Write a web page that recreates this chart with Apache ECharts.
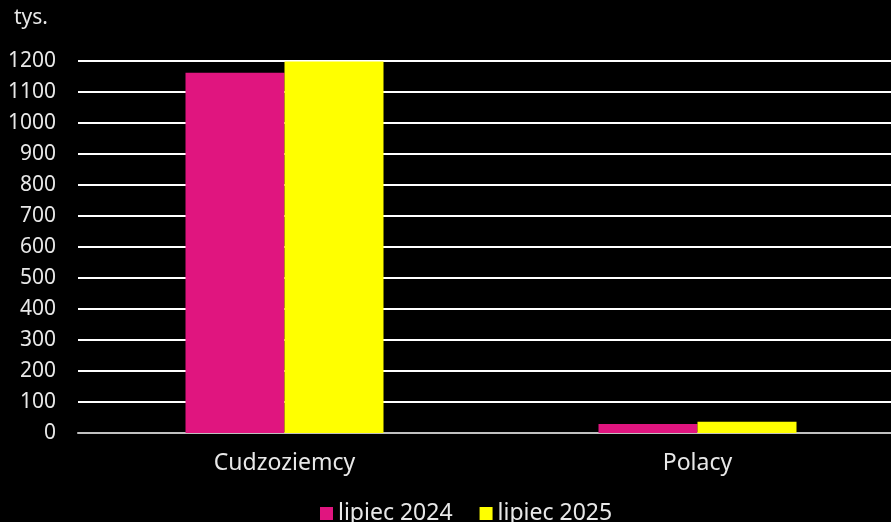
<!DOCTYPE html>
<html><head><meta charset="utf-8">
<script src="https://cdn.jsdelivr.net/npm/echarts@6/dist/echarts.min.js"></script>
<style>html,body{margin:0;padding:0;background:#000;}#c{width:891px;height:522px;}</style>
</head><body><div id="c"></div>
<script>
const categories = ['Cudzoziemcy', 'Polacy'];
const seriesNames = ['lipiec 2024', 'lipiec 2025'];
const values2024 = [1162, 29];
const values2025 = [1198, 36];
const colors = ['#E0157F', '#FFFF00'];

const chart = echarts.init(document.getElementById('c'));
const font = 'Noto Sans';
chart.setOption({
  backgroundColor: '#000',
  animation: false,
  textStyle: { fontFamily: font },
  grid: { left: 78, width: 826, top: 61, height: 372, containLabel: false, outerBoundsMode: 'none' },
  legend: {
    bottom: -3, left: 320, padding: 0, itemWidth: 13, itemHeight: 13, itemGap: 27,
    icon: 'rect',
    textStyle: { color: '#e8e8e8', fontSize: 23, fontFamily: font },
    data: seriesNames
  },
  xAxis: {
    type: 'category', data: categories,
    axisLine: { lineStyle: { color: '#c0c0c0', width: 2 } },
    axisTick: { show: false },
    axisLabel: { color: '#e8e8e8', fontSize: 23, margin: 19, fontFamily: font }
  },
  yAxis: {
    type: 'value', min: 0, max: 1200, interval: 100,
    name: 'tys.', nameLocation: 'end', nameGap: 32,
    nameTextStyle: { color: '#e8e8e8', fontSize: 21, align: 'left', padding: [0,0,0,-64], fontFamily: font },
    axisLine: { show: false }, axisTick: { show: false },
    axisLabel: { color: '#e8e8e8', fontSize: 21, margin: 22, fontFamily: font, formatter: v => String(v) },
    splitLine: { lineStyle: { color: '#ffffff', width: 2 } }
  },
  series: [
    { name: seriesNames[0], type: 'bar', data: values2024, itemStyle: { color: colors[0] }, barGap: '0%', barWidth: 99 },
    { name: seriesNames[1], type: 'bar', data: values2025, itemStyle: { color: colors[1] }, barGap: '0%', barWidth: 99 }
  ]
});
</script></body></html>
